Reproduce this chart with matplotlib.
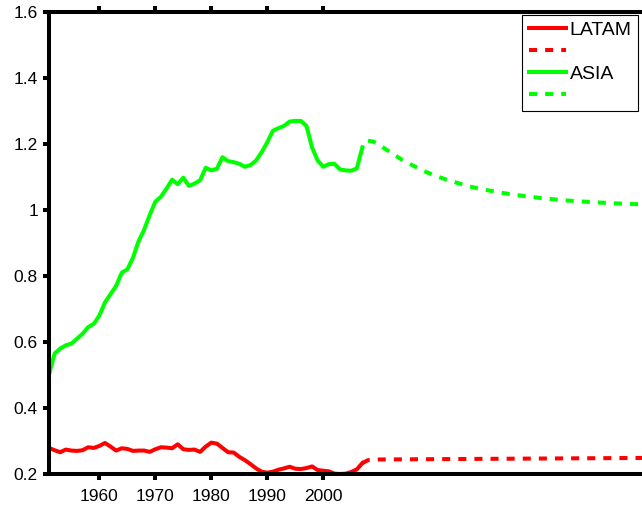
import matplotlib
matplotlib.use("Agg")
import matplotlib.pyplot as plt
from matplotlib.ticker import FormatStrFormatter

plt.rcParams["font.family"] = ["Liberation Sans", "DejaVu Sans"]

# historical series, 1951-2007
years = list(range(1951, 2008))
latam = [0.279, 0.272, 0.266, 0.274, 0.271, 0.270, 0.272, 0.281, 0.279, 0.285,
         0.294, 0.283, 0.271, 0.278, 0.276, 0.270, 0.271, 0.271, 0.267, 0.275,
         0.281, 0.280, 0.278, 0.290, 0.275, 0.273, 0.274, 0.267, 0.283, 0.295,
         0.292, 0.279, 0.266, 0.265, 0.252, 0.242, 0.230, 0.217, 0.207, 0.204,
         0.207, 0.213, 0.217, 0.222, 0.216, 0.215, 0.218, 0.223, 0.212, 0.210,
         0.208, 0.201, 0.200, 0.201, 0.206, 0.214, 0.233]
asia = [0.500, 0.565, 0.580, 0.590, 0.595, 0.610, 0.625, 0.645, 0.655, 0.680,
        0.720, 0.745, 0.770, 0.810, 0.820, 0.855, 0.905, 0.940, 0.985, 1.025,
        1.040, 1.065, 1.092, 1.078, 1.098, 1.073, 1.080, 1.090, 1.128, 1.120,
        1.125, 1.160, 1.148, 1.145, 1.140, 1.131, 1.136, 1.150, 1.175, 1.205,
        1.240, 1.248, 1.255, 1.268, 1.270, 1.270, 1.255, 1.190, 1.150, 1.131,
        1.139, 1.140, 1.123, 1.120, 1.119, 1.126, 1.190]

# projections
latam_proj_years = [2007, 2008, 2010, 2020, 2030, 2040, 2050, 2060]
latam_proj = [0.233, 0.242, 0.244, 0.245, 0.246, 0.247, 0.248, 0.249]
asia_proj_years = [2008, 2009, 2010, 2011, 2012, 2014, 2016, 2018, 2020, 2022,
                   2024, 2026, 2028, 2030, 2033, 2036, 2039, 2042, 2045, 2048,
                   2051, 2054, 2057, 2060]
asia_proj = [1.210, 1.207, 1.198, 1.186, 1.175, 1.153, 1.135, 1.118, 1.104, 1.092,
             1.082, 1.072, 1.064, 1.058, 1.049, 1.042, 1.036, 1.031, 1.027, 1.024,
             1.021, 1.019, 1.017, 1.016]

xticks = [1960, 1970, 1980, 1990, 2000]
yticks = [0.2, 0.4, 0.6, 0.8, 1.0, 1.2, 1.4, 1.6]

fig = plt.figure(figsize=(6.42, 5.12), dpi=100)
# axes runs past the right edge of the figure, as in the original crop
ax = fig.add_axes([49 / 642, 38 / 512, 610 / 642, 462 / 512])

lw = 2.9
dash = (0, (2, 2))
l1, = ax.plot(years, latam, color="#ff0000", lw=lw, solid_joinstyle="round")
l2, = ax.plot(latam_proj_years, latam_proj, color="#ff0000", lw=lw, ls=dash)
l3, = ax.plot(years, asia, color="#00ff00", lw=lw, solid_joinstyle="round")
l4, = ax.plot(asia_proj_years, asia_proj, color="#00ff00", lw=lw, ls=dash)

ax.set_xlim(1951, 2060)
ax.set_ylim(0.2, 1.6)
ax.set_xticks(xticks)
ax.set_yticks(yticks)
ax.yaxis.set_major_formatter(FormatStrFormatter("%g"))
ax.tick_params(direction="out", length=4, width=2.9, labelsize=12.5, color="black")
ax.tick_params(axis="x", top=True, pad=7)
ax.tick_params(axis="y", pad=4)
for side in ["left", "bottom", "top"]:
    ax.spines[side].set_linewidth(2.9)
ax.spines["right"].set_visible(False)

leg = fig.legend([l1, l2, l3, l4], ["LATAM", "", "ASIA", ""],
                 loc="upper right", bbox_to_anchor=(638 / 642, 1 - 15 / 512),
                 bbox_transform=fig.transFigure, fontsize=14, fancybox=False,
                 framealpha=1, edgecolor="black", handlelength=1.9,
                 handletextpad=0.2, borderaxespad=0, labelspacing=0.22,
                 borderpad=0.33)
leg.get_frame().set_linewidth(0.8)

fig.savefig("out.png", dpi=100)
